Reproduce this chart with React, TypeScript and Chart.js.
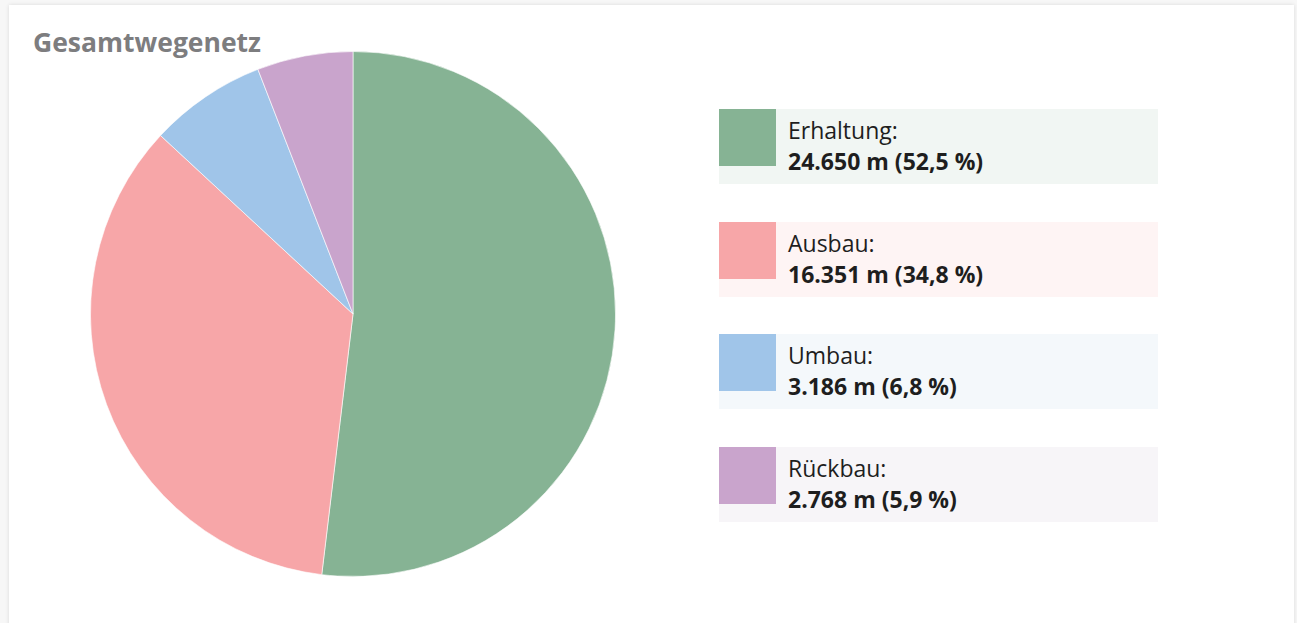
import React, { useEffect, useRef } from "react";
import { Chart, registerables } from "chart.js";

Chart.register(...registerables);

const categories = ["Erhaltung", "Ausbau", "Umbau", "Rückbau"];
const lengths = [24650, 16351, 3186, 2768];
const shares = ["52,5", "34,8", "6,8", "5,9"];
// slice sizes as drawn in the picture (percent of the circle)
const sliceShares = [51.9, 35.0, 7.2, 5.9];
const colors = ["#86b394", "#f7a6a8", "#a0c5e9", "#c9a4cc"];
const tints = ["#f1f6f3", "#fef4f4", "#f4f8fb", "#f7f5f8"];

const fmt = (n: number) => n.toString().replace(/\B(?=(\d{3})+(?!\d))/g, ".");

export default function App() {
  const ref = useRef<HTMLCanvasElement | null>(null);
  useEffect(() => {
    document.body.style.margin = "0";
    document.body.style.background = "#f7f7f7";
    const chart = new Chart(ref.current!, {
      type: "pie",
      data: {
        labels: categories,
        datasets: [
          {
            data: sliceShares,
            backgroundColor: colors,
            borderColor: "rgba(255,255,255,0.6)",
            borderWidth: 1,
          },
        ],
      },
      options: {
        responsive: false,
        animation: false,
        layout: { padding: 3 },
        plugins: { legend: { display: false }, tooltip: { enabled: false } },
      },
    });
    return () => chart.destroy();
  }, []);

  return (
    <div style={{ position: "relative", width: 1297, height: 623, overflow: "hidden", background: "#f7f7f7", fontFamily: "'Open Sans', sans-serif" }}>
      <div style={{ position: "absolute", left: 9, top: 5, width: 1285, height: 640, background: "#fff", boxShadow: "0 0 4px rgba(0,0,0,0.12)" }} />
      <div style={{ position: "absolute", left: 33, top: 24, fontSize: 26.5, fontWeight: 700, color: "#7d7d7f", lineHeight: "36px" }}>Gesamtwegenetz</div>
      <canvas ref={ref} width={532} height={532} style={{ position: "absolute", left: 87, top: 48, width: 532, height: 532 }} />
      {categories.map((c, i) => (
        <div key={c} style={{ position: "absolute", left: 719, top: 109 + i * 112.5, width: 439, height: 75, background: tints[i] }}>
          <div style={{ position: "absolute", left: 0, top: 0, width: 57, height: 57, background: colors[i] }} />
          <div style={{ position: "absolute", left: 69, top: 6, fontSize: 23, lineHeight: "31px", color: "#1e1e1e", whiteSpace: "nowrap" }}>
            <div>{c}:</div>
            <div style={{ fontWeight: 700 }}>{fmt(lengths[i])} m ({shares[i]} %)</div>
          </div>
        </div>
      ))}
    </div>
  );
}
